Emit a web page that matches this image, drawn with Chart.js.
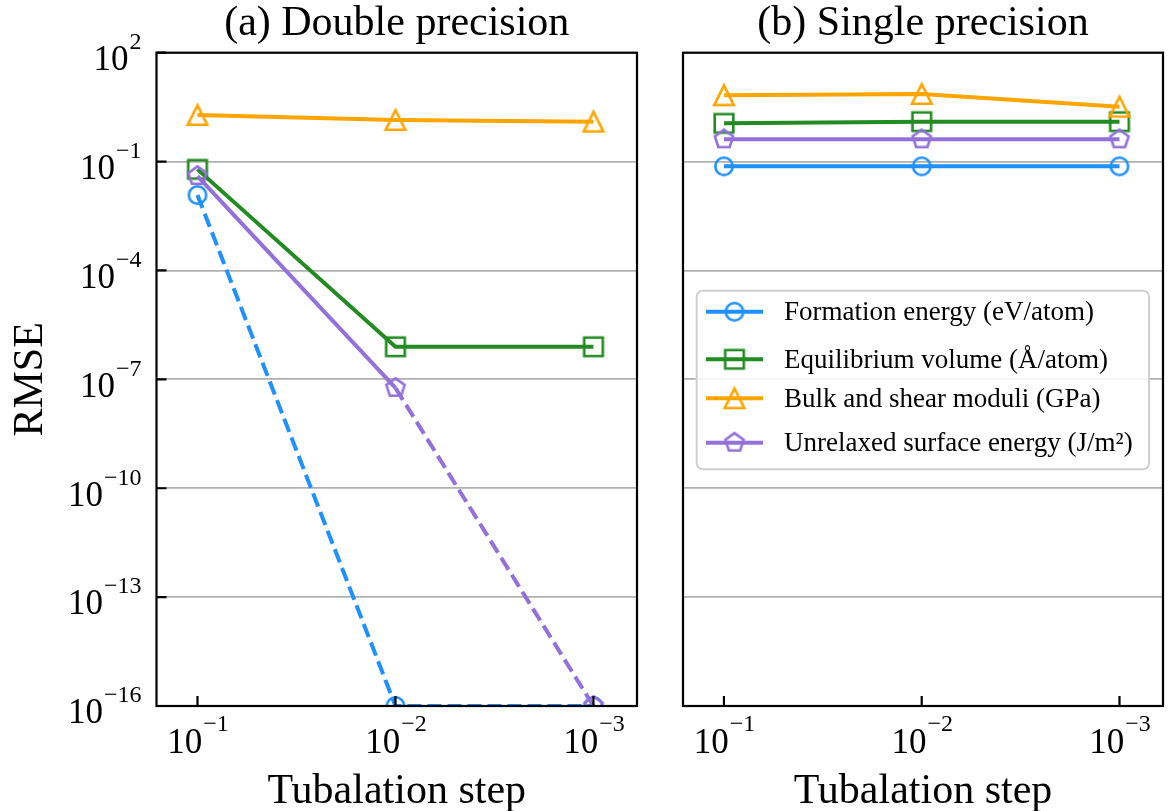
<!DOCTYPE html>
<html>
<head>
<meta charset="utf-8">
<script src="https://cdn.jsdelivr.net/npm/chart.js@4.4.0/dist/chart.umd.min.js"></script>
<style>
  html, body { margin: 0; padding: 0; background: #fff; }
  #wrap { position: relative; width: 1168px; height: 811px; }
  canvas { position: absolute; top: 0; }
  #left { left: 0; }
  #right { left: 640px; }
</style>
</head>
<body>
<div id="wrap">
  <canvas id="left" width="640" height="811"></canvas>
  <canvas id="right" width="528" height="811"></canvas>
</div>
<script>
// tubalation steps (x) and tick exponents
const steps = [0.1, 0.01, 0.001];
const yTickExps = [2, -1, -4, -7, -10, -13, -16];

const seriesNames = [
  'Formation energy (eV/atom)',
  'Equilibrium volume (\u00C5/atom)',
  'Bulk and shear moduli (GPa)',
  'Unrelaxed surface energy (J/m\u00B2)'
];
const seriesColors = ['#1E90FF', '#228B22', '#FFA500', '#9370DB'];
const seriesMarkers = ['circle', 'square', 'triangle', 'pentagon'];

// RMSE values, zero errors are shown at the floor 1e-16
const FLOOR = 1e-16;
const doubleFormation = [0.012, 1e-16, 1e-16];
const doubleVolume    = [0.061, 7.9e-7, 7.9e-7];
const doubleModuli    = [1.92, 1.4, 1.26];
const doubleSurface   = [0.040, 5.8e-8, 1e-16];

const singleFormation = [0.074, 0.074, 0.074];
const singleVolume    = [1.13, 1.26, 1.26];
const singleModuli    = [6.7, 7.3, 3.25];
const singleSurface   = [0.41, 0.41, 0.41];

const FONT = '"Liberation Serif", "Times New Roman", serif';

function makeMarker(kind, color) {
  const c = document.createElement('canvas');
  c.width = 28; c.height = 28;
  const g = c.getContext('2d');
  g.strokeStyle = color;
  g.lineWidth = 2.6;
  g.translate(14, 14);
  g.beginPath();
  if (kind === 'circle') {
    g.arc(0, 0, 8.7, 0, Math.PI * 2);
  } else if (kind === 'square') {
    g.rect(-9.3, -9.3, 18.6, 18.6);
  } else if (kind === 'triangle') {
    g.moveTo(0, -9.8); g.lineTo(-9.8, 9.8); g.lineTo(9.8, 9.8); g.closePath();
  } else {
    for (let k = 0; k < 5; k++) {
      const ang = (-90 + 72 * k) * Math.PI / 180;
      const px = 9.6 * Math.cos(ang), py = 9.6 * Math.sin(ang);
      if (k === 0) g.moveTo(px, py); else g.lineTo(px, py);
    }
    g.closePath();
  }
  g.stroke();
  return c;
}
const markerImgs = seriesMarkers.map((m, i) => makeMarker(m, seriesColors[i]));

function buildDatasets(series) {
  return series.map((vals, i) => ({
    label: seriesNames[i],
    data: steps.map((s, j) => ({ x: s, y: vals[j] })),
    borderColor: seriesColors[i],
    backgroundColor: 'transparent',
    borderWidth: 4,
    pointStyle: markerImgs[i],
    pointRadius: 10,
    pointHoverRadius: 10,
    order: series.length - i,
    segment: {
      borderDash: ctx => ctx.p1.parsed.y <= FLOOR ? [14, 6] : undefined
    }
  }));
}

function drawPow(ctx, exp, x, baseY, supY, align) {
  const base = '10';
  const sup = exp < 0 ? '\u2212' + (-exp) : String(exp);
  ctx.font = '35px ' + FONT;
  const wb = ctx.measureText(base).width;
  ctx.font = '24px ' + FONT;
  const ws = ctx.measureText(sup).width;
  const left = align === 'right' ? x - wb - ws : x - (wb + ws) / 2;
  ctx.textAlign = 'left';
  ctx.textBaseline = 'alphabetic';
  ctx.font = '35px ' + FONT;
  ctx.fillText(base, left, baseY);
  ctx.font = '24px ' + FONT;
  ctx.fillText(sup, left + wb + 1, supY);
}

function drawLegend(chart) {
  const { ctx, chartArea: a } = chart;
  const bx = a.left + 13.7, by = 290.7, bw = 452.3, bh = 178.6;
  const rows = [21, 68.6, 107.6, 152];
  ctx.save();
  ctx.fillStyle = 'rgba(255,255,255,0.85)';
  ctx.strokeStyle = '#d0d0d0';
  ctx.lineWidth = 2;
  ctx.beginPath();
  ctx.roundRect(bx, by, bw, bh, 6);
  ctx.fill();
  ctx.stroke();
  chart.data.datasets.forEach((ds, i) => {
    const ry = by + rows[i];
    ctx.strokeStyle = ds.borderColor;
    ctx.lineWidth = 4;
    ctx.beginPath();
    ctx.moveTo(bx + 9.3, ry);
    ctx.lineTo(bx + 66.3, ry);
    ctx.stroke();
    const img = ds.pointStyle;
    ctx.drawImage(img, bx + 37.8 - img.width / 2, ry - img.height / 2);
    ctx.fillStyle = '#000';
    ctx.font = '27px ' + FONT;
    ctx.textAlign = 'left';
    ctx.textBaseline = 'alphabetic';
    ctx.fillText(ds.label, bx + 87.3, ry + 8.5);
  });
  ctx.restore();
}

function panelDecor(opts) {
  return {
    id: 'panelDecor',
    afterDatasetsDraw(chart) {
      const { ctx, chartArea: a, scales: { x, y } } = chart;
      ctx.save();
      ctx.strokeStyle = '#000';
      ctx.lineWidth = 2.2;
      ctx.beginPath();
      x.ticks.forEach(t => {
        const px = x.getPixelForValue(t.value);
        ctx.moveTo(px, a.bottom); ctx.lineTo(px, a.bottom - 10);
      });
      if (opts.yLabels) {
        y.ticks.forEach(t => {
          const py = y.getPixelForValue(t.value);
          ctx.moveTo(a.left, py); ctx.lineTo(a.left + 10, py);
        });
      }
      ctx.stroke();
      ctx.strokeRect(a.left, a.top, a.right - a.left, a.bottom - a.top);
      ctx.restore();
    },
    afterDraw(chart) {
      const { ctx, chartArea: a, scales: { x, y } } = chart;
      const cx = (a.left + a.right) / 2;
      ctx.save();
      ctx.fillStyle = '#000';
      // panel title
      ctx.font = '42px ' + FONT;
      ctx.textAlign = 'center';
      ctx.textBaseline = 'alphabetic';
      ctx.fillText(opts.title, cx, 35);
      // x axis title
      ctx.fillText('Tubalation step', cx, 803);
      // x tick labels
      x.ticks.forEach(t => {
        const px = x.getPixelForValue(t.value);
        drawPow(ctx, Math.round(Math.log10(t.value)), px, a.bottom + 47, a.bottom + 25, 'center');
      });
      if (opts.yLabels) {
        y.ticks.forEach(t => {
          const py = y.getPixelForValue(t.value);
          drawPow(ctx, Math.round(Math.log10(t.value)), a.left - 16, py + 17.3, py - 3.7, 'right');
        });
        ctx.save();
        ctx.translate(42, (a.top + a.bottom) / 2);
        ctx.rotate(-Math.PI / 2);
        ctx.font = '42px ' + FONT;
        ctx.textAlign = 'center';
        ctx.fillText('RMSE', 0, 0);
        ctx.restore();
      }
      ctx.restore();
      if (opts.legend) drawLegend(chart);
    }
  };
}

function makeChart(id, series, padding, opts) {
  return new Chart(document.getElementById(id), {
    type: 'line',
    data: { datasets: buildDatasets(series) },
    options: {
      responsive: false,
      animation: false,
      devicePixelRatio: 1,
      layout: { padding, autoPadding: false },
      plugins: { legend: { display: false }, tooltip: { enabled: false }, title: { display: false } },
      scales: {
        x: {
          type: 'logarithmic',
          reverse: true,
          bounds: 'data',
          min: Math.pow(10, -3.22),
          max: Math.pow(10, -0.793),
          afterBuildTicks: s => { s.ticks = steps.map(v => ({ value: v })); },
          afterFit: s => { s.height = 0; },
          ticks: { display: false },
          grid: { display: false, drawTicks: false },
          border: { display: false }
        },
        y: {
          type: 'logarithmic',
          bounds: 'data',
          min: 1e-16,
          max: 1e2,
          afterBuildTicks: s => { s.ticks = yTickExps.map(e => ({ value: Number('1e' + e) })); },
          afterFit: s => { s.width = 0; },
          ticks: { display: false },
          grid: { color: '#b0b0b0', lineWidth: 1.8, drawTicks: false },
          border: { display: false }
        }
      }
    },
    plugins: [panelDecor(opts)]
  });
}

makeChart('left',
  [doubleFormation, doubleVolume, doubleModuli, doubleSurface],
  { left: 156.5, right: 3, top: 52.7, bottom: 105 },
  { title: '(a) Double precision', yLabels: true, legend: false });

makeChart('right',
  [singleFormation, singleVolume, singleModuli, singleSurface],
  { left: 43, right: 5, top: 52.7, bottom: 105 },
  { title: '(b) Single precision', yLabels: false, legend: true });
</script>
</body>
</html>
